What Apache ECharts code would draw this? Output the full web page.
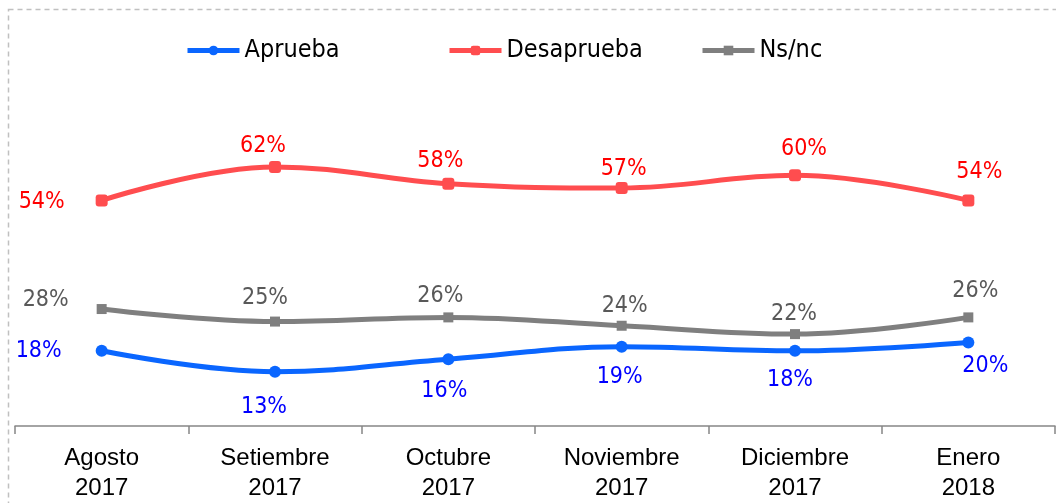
<!DOCTYPE html>
<html>
<head>
<meta charset="utf-8">
<script src="https://cdn.jsdelivr.net/npm/echarts@6/dist/echarts.min.js"></script>
<style>
  html, body { margin: 0; padding: 0; background: #fff; }
  #chart { width: 1056px; height: 503px; }
</style>
</head>
<body>
<div id="chart"></div>
<script>
// data
var categories = ['Agosto\n2017', 'Setiembre\n2017', 'Octubre\n2017', 'Noviembre\n2017', 'Diciembre\n2017', 'Enero\n2018'];
var aprueba = [18, 13, 16, 19, 18, 20];
var desaprueba = [54, 62, 58, 57, 60, 54];
var nsnc = [28, 25, 26, 24, 22, 26];

// where each value label sits relative to its point
var offAprueba = [[-63, 0], [-11, 35], [-4, 32], [-2, 30], [-5, 29], [17, 24]];
var offDesaprueba = [[-60, 2], [-12, -21], [-8, -23], [2, -19], [9, -26], [11, -28]];
var offNsnc = [[-56, -9], [-10, -24], [-8, -21], [3, -20], [-1, -20], [7, -26]];

var narrowFont = '"DejaVu Sans Condensed", "Liberation Sans", sans-serif';

function withLabels(values, offsets) {
  return values.map(function (v, i) {
    return { value: v, label: { offset: offsets[i] } };
  });
}

function legendAt(name, left) {
  return {
    data: [name],
    left: left,
    top: 38,
    padding: 0,
    itemWidth: 52,
    itemHeight: 12,
    selectedMode: false,
    lineStyle: { width: 5 },
    textStyle: { fontFamily: narrowFont, fontSize: 25, color: '#000' }
  };
}

function lineSeries(name, values, offsets, color, labelColor, symbol, size) {
  return {
    name: name,
    type: 'line',
    smooth: 0.4,
    symbol: symbol,
    symbolSize: size,
    data: withLabels(values, offsets),
    lineStyle: { color: color, width: 5 },
    itemStyle: { color: color },
    label: {
      show: true,
      position: 'inside',
      formatter: '{c}%',
      fontFamily: narrowFont,
      fontSize: 23,
      color: labelColor
    },
    emphasis: { disabled: true }
  };
}

var myChart = echarts.init(document.getElementById('chart'));

myChart.setOption({
  animation: false,
  graphic: [{
    type: 'rect',
    shape: { x: 8.5, y: 9.5, width: 1200, height: 700 },
    style: { fill: 'none', stroke: '#C0C0C0', lineWidth: 1.5, lineDash: [5, 4] },
    silent: true
  }],
  legend: [
    legendAt('Aprueba', 185),
    legendAt('Desaprueba', 447),
    legendAt('Ns/nc', 700)
  ],
  grid: { left: 15, right: 1, top: 133.6, bottom: 75.4 },
  xAxis: {
    type: 'category',
    data: categories,
    boundaryGap: true,
    axisLine: { lineStyle: { color: '#868686', width: 1.5 } },
    axisTick: { show: true, interval: 0, length: 8, lineStyle: { color: '#868686', width: 1.5 } },
    axisLabel: {
      interval: 0,
      margin: 17,
      fontFamily: 'Liberation Sans',
      fontSize: 24,
      lineHeight: 30,
      color: '#000'
    }
  },
  yAxis: {
    type: 'value',
    min: 0,
    max: 70,
    show: false,
    splitLine: { show: false }
  },
  series: [
    lineSeries('Aprueba', aprueba, offAprueba, '#0A66FF', '#0000FF', 'circle', 12),
    lineSeries('Desaprueba', desaprueba, offDesaprueba, '#FF4D4F', '#FF0000', 'roundRect', 12),
    lineSeries('Ns/nc', nsnc, offNsnc, '#7F7F7F', '#595959', 'rect', 10)
  ]
});
</script>
</body>
</html>
